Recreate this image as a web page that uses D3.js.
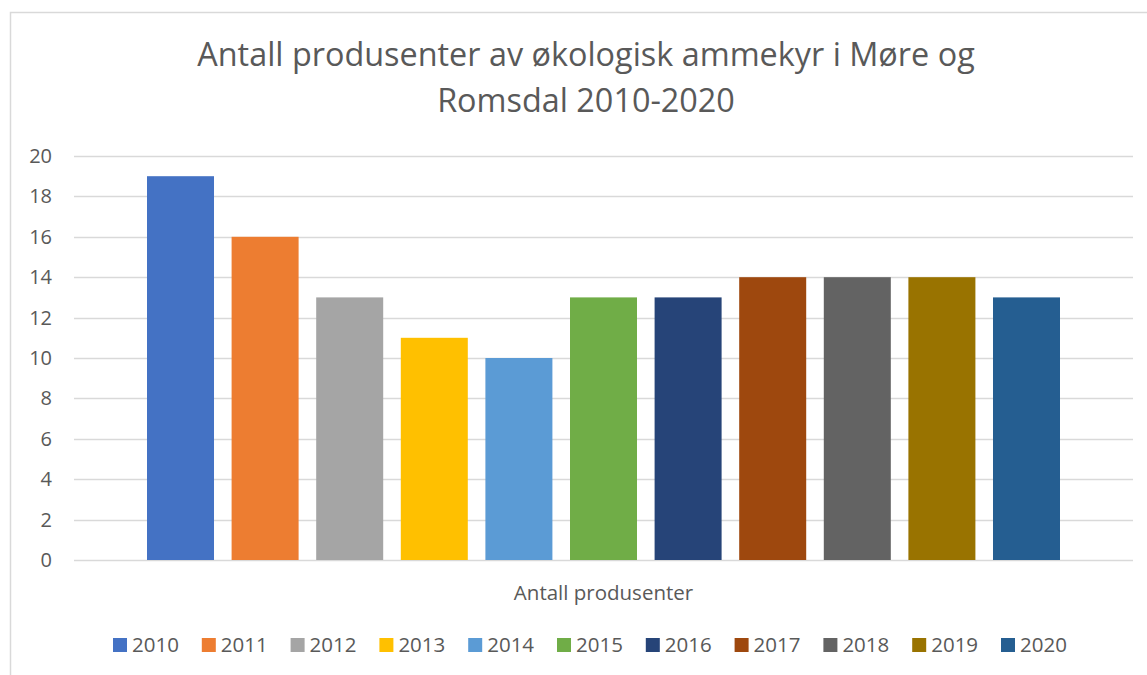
<!DOCTYPE html>
<html>
<head>
<meta charset="utf-8">
<script src="https://cdn.jsdelivr.net/npm/d3@7"></script>
<style>
  body { margin: 0; background: #fff; }
  text { font-family: "Open Sans", sans-serif; fill: #595959; }
</style>
</head>
<body>
<div id="chart"></div>
<script>
// data
var years = ["2010", "2011", "2012", "2013", "2014", "2015", "2016", "2017", "2018", "2019", "2020"];
var values = [19, 16, 13, 11, 10, 13, 13, 14, 14, 14, 13];
var colors = ["#4472C4", "#ED7D31", "#A5A5A5", "#FFC000", "#5B9BD5", "#70AD47",
              "#264478", "#9E480E", "#636363", "#997300", "#255E91"];
var category = "Antall produsenter";
var yTicks = [0, 2, 4, 6, 8, 10, 12, 14, 16, 18, 20];
var titleLines = ["Antall produsenter av økologisk ammekyr i Møre og", "Romsdal 2010-2020"];

var width = 1147, height = 675;
var plot = { left: 74, right: 1133, top: 156, bottom: 560 };

var svg = d3.select("#chart").append("svg")
  .attr("width", width).attr("height", height);

// chart border
svg.append("rect")
  .attr("x", 10.5).attr("y", 12.5)
  .attr("width", width).attr("height", height)
  .attr("fill", "none").attr("stroke", "#D9D9D9").attr("stroke-width", 1.5);

// title
var title = svg.append("g");
title.selectAll("text")
  .data(titleLines)
  .enter().append("text")
  .attr("x", 586)
  .attr("y", function(d, i) { return 66 + i * 46; })
  .attr("text-anchor", "middle")
  .style("font-size", "31px")
  .text(function(d) { return d; })
  .each(function(d, i) {
    // squeeze to the width of the original first line
    if (i == 0) {
      var w = this.getComputedTextLength();
      var size = 31 * 778 / w;
      title.selectAll("text").style("font-size", size + "px");
    }
  });

// scales
var y = d3.scaleLinear().domain([0, 20]).range([plot.bottom, plot.top]);

var x0 = d3.scaleBand().domain([category])
  .range([plot.left, plot.right]);

var groupPad = 73;
var x1 = d3.scaleBand().domain(years)
  .range([groupPad, x0.bandwidth() - groupPad])
  .paddingInner(0.208).paddingOuter(0);

// gridlines
svg.append("g")
  .selectAll("line")
  .data(yTicks)
  .enter().append("line")
  .attr("x1", plot.left).attr("x2", plot.right)
  .attr("y1", function(d) { return Math.round(y(d)) + 0.5; })
  .attr("y2", function(d) { return Math.round(y(d)) + 0.5; })
  .attr("stroke", "#D9D9D9").attr("stroke-width", 1.5);

// y axis labels
var yAxis = svg.append("g")
  .attr("transform", "translate(" + (plot.left - 22) + ",0)")
  .call(d3.axisLeft(y).tickValues(yTicks).tickSize(0).tickPadding(0));
yAxis.select(".domain").remove();
yAxis.selectAll("text")
  .style("font-size", "20px")
  .style("font-family", "'Open Sans', sans-serif")
  .attr("fill", "#595959");

// bars
svg.append("g")
  .attr("transform", "translate(" + x0(category) + ",0)")
  .selectAll("rect")
  .data(years)
  .enter().append("rect")
  .attr("x", function(d) { return x1(d); })
  .attr("width", x1.bandwidth())
  .attr("y", function(d, i) { return y(values[i]); })
  .attr("height", function(d, i) { return y(0) - y(values[i]); })
  .attr("fill", function(d, i) { return colors[i]; });

// category label
var xAxis = svg.append("g")
  .attr("transform", "translate(0," + (plot.bottom + 25) + ")")
  .call(d3.axisBottom(x0).tickSize(0).tickPadding(0));
xAxis.select(".domain").remove();
xAxis.selectAll("text")
  .style("font-size", "20.5px")
  .style("font-family", "'Open Sans', sans-serif")
  .attr("fill", "#595959");

// legend
var legendX = d3.scalePoint().domain(years).range([113, 1001]);
var legend = svg.append("g")
  .selectAll("g")
  .data(years)
  .enter().append("g")
  .attr("transform", function(d) { return "translate(" + legendX(d) + ",638)"; });

legend.append("rect")
  .attr("width", 14).attr("height", 14)
  .attr("fill", function(d, i) { return colors[i]; });

legend.append("text")
  .attr("x", 19).attr("y", 14)
  .style("font-size", "20.5px")
  .text(function(d) { return d; });
</script>
</body>
</html>
